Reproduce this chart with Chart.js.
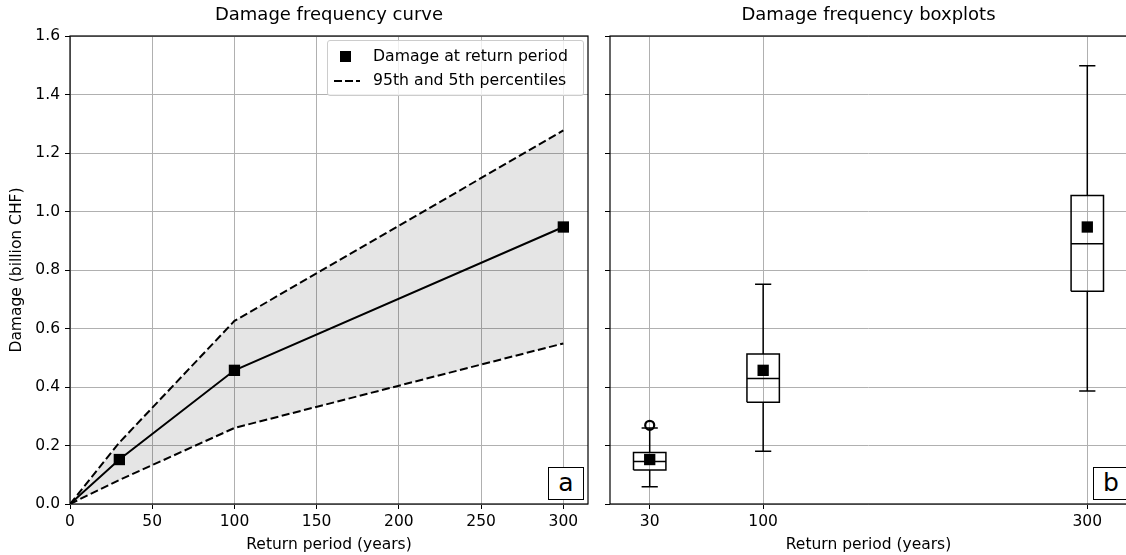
<!DOCTYPE html>
<html>
<head>
<meta charset="utf-8">
<title>Damage frequency</title>
<script src="https://cdn.jsdelivr.net/npm/chart.js@4.4.1/dist/chart.umd.min.js"></script>
<style>
  html, body { margin: 0; padding: 0; background: #fff; overflow: hidden; }
  #wrap { position: relative; width: 1126px; height: 555px; overflow: hidden; font-family: 'DejaVu Sans', sans-serif; color: #000; }
  canvas { position: absolute; top: 0; }
  #curveChart { left: 0; }
  #boxChart { left: 590px; }
  .legend { position: absolute; left: 327px; top: 40px; width: 257px; height: 56px; box-sizing: border-box;
            border: 1px solid #ccc; border-radius: 3px; background: rgba(255,255,255,.8); font-size: 15.7px; }
  .legend .sq { position: absolute; left: 12px; top: 10px; width: 11px; height: 11px; background: #000; }
  .legend .dash { position: absolute; left: 6px; top: 39px; width: 26px; height: 2px;
                  background: repeating-linear-gradient(to right, #000 0 8px, transparent 8px 11px); }
  .legend .lbl { position: absolute; left: 45px; white-space: nowrap; line-height: 18px; }
  .tag { position: absolute; top: 467px; width: 36px; height: 33px; box-sizing: border-box; border: 1.2px solid #000;
         background: #fff; font-size: 25px; line-height: 30px; text-align: center; }
</style>
</head>
<body>
<div id="wrap">
  <canvas id="curveChart" width="600" height="555"></canvas>
  <canvas id="boxChart" width="545" height="555"></canvas>
  <div class="legend">
    <span class="sq"></span><span class="lbl" style="top:6px">Damage at return period</span>
    <span class="dash"></span><span class="lbl" style="top:30px">95th and 5th percentiles</span>
  </div>
  <div class="tag" style="left:548px">a</div>
  <div class="tag" style="left:1093px">b</div>
</div>
<script>
// damage frequency curve (left)
var returnPeriods = [0, 30, 100, 300];
var damageMean = [0, 0.152, 0.457, 0.947];
var damageP95 = [0, 0.21, 0.626, 1.277];
var damageP5 = [0, 0.082, 0.26, 0.549];

// boxplots (right)
var boxPeriods = [30, 100, 300];
var boxMean = [0.152, 0.457, 0.947];
var whiskerLow = [0.059, 0.18, 0.386];
var boxQ1 = [0.116, 0.348, 0.727];
var boxMedian = [0.145, 0.429, 0.89];
var boxQ3 = [0.176, 0.513, 1.055];
var whiskerHigh = [0.26, 0.751, 1.498];
var outlierPeriods = [30];
var outlierDamage = [0.269];

// ticks
var curveTicks = [0, 50, 100, 150, 200, 250, 300];
var damageTicks = [0, 0.2, 0.4, 0.6, 0.8, 1.0, 1.2, 1.4, 1.6];

var BOX_HALF = 10, CAP_HALF = 5;
Chart.defaults.font.family = "'DejaVu Sans', sans-serif";
Chart.defaults.font.size = 15.5;
Chart.defaults.color = '#000';

function pts(xs, ys) {
  return xs.map(function (x, i) { return { x: x, y: ys[i] }; });
}

// outline, median, whiskers and caps of every box as one broken polyline
function boxSegments() {
  var out = [];
  var gap = { x: null, y: null };
  boxPeriods.forEach(function (p, i) {
    var l = p - BOX_HALF, r = p + BOX_HALF;
    out.push({ x: l, y: boxQ1[i] }, { x: r, y: boxQ1[i] }, { x: r, y: boxQ3[i] }, { x: l, y: boxQ3[i] }, { x: l, y: boxQ1[i] }, gap);
    out.push({ x: l, y: boxMedian[i] }, { x: r, y: boxMedian[i] }, gap);
    out.push({ x: p, y: boxQ1[i] }, { x: p, y: whiskerLow[i] }, gap);
    out.push({ x: p, y: boxQ3[i] }, { x: p, y: whiskerHigh[i] }, gap);
    out.push({ x: p - CAP_HALF, y: whiskerLow[i] }, { x: p + CAP_HALF, y: whiskerLow[i] }, gap);
    out.push({ x: p - CAP_HALF, y: whiskerHigh[i] }, { x: p + CAP_HALF, y: whiskerHigh[i] }, gap);
  });
  return out;
}

var frame = {
  id: 'frame',
  afterDatasetsDraw: function (chart) {
    var a = chart.chartArea, ctx = chart.ctx;
    ctx.save();
    ctx.strokeStyle = '#000';
    ctx.lineWidth = 1.2;
    ctx.strokeRect(a.left, a.top, a.right - a.left, a.bottom - a.top);
    ctx.restore();
  }
};

function yScale(showLabels, width) {
  return {
    min: 0, max: 1.6,
    afterBuildTicks: function (s) { s.ticks = damageTicks.map(function (v) { return { value: v }; }); },
    afterFit: function (s) { s.width = width; },
    ticks: { display: showLabels, padding: 5, callback: function (v) { return v.toFixed(1); } },
    grid: { color: '#b0b0b0', lineWidth: 1, tickColor: '#000', tickLength: 5 },
    border: { display: false },
    title: { display: showLabels, text: 'Damage (billion CHF)', padding: { top: 8, bottom: 0 } }
  };
}

function xScale(min, max, tickValues) {
  return {
    type: 'linear', min: min, max: max,
    afterBuildTicks: function (s) { s.ticks = tickValues.map(function (v) { return { value: v }; }); },
    afterFit: function (s) { s.height = 51; },
    ticks: { padding: 4 },
    grid: { color: '#b0b0b0', lineWidth: 1, tickColor: '#000', tickLength: 5 },
    border: { display: false },
    title: { display: true, text: 'Return period (years)', padding: { top: 0, bottom: 1 } }
  };
}

function titleOpts(text) {
  return { display: true, text: text, fullSize: false, font: { size: 18, weight: 'normal' }, padding: { top: 5, bottom: 9.4 } };
}

new Chart(document.getElementById('curveChart'), {
  type: 'scatter',
  data: {
    datasets: [
      { label: '5th percentile', data: pts(returnPeriods, damageP5), showLine: true, borderColor: '#000', borderWidth: 2,
        borderDash: [8, 3.5], pointRadius: 0, fill: false },
      { label: '95th percentile', data: pts(returnPeriods, damageP95), showLine: true, borderColor: '#000', borderWidth: 2,
        borderDash: [8, 3.5], pointRadius: 0, fill: '-1', backgroundColor: 'rgba(0,0,0,0.1)' },
      { label: 'Damage at return period', data: pts(returnPeriods, damageMean), showLine: true, borderColor: '#000', borderWidth: 2,
        pointStyle: 'rect', pointRadius: returnPeriods.map(function (p) { return p === 0 ? 0 : 8; }),
        pointBackgroundColor: '#000', pointBorderWidth: 0 }
    ]
  },
  options: {
    responsive: false, animation: false, events: [],
    layout: { padding: { left: 0, right: 12, top: 0, bottom: 0 } },
    plugins: { legend: { display: false }, tooltip: { enabled: false }, title: titleOpts('Damage frequency curve') },
    scales: { x: xScale(0, 315, curveTicks), y: yScale(true, 70) }
  },
  plugins: [frame]
});

new Chart(document.getElementById('boxChart'), {
  type: 'scatter',
  data: {
    datasets: [
      { label: 'boxes', data: boxSegments(), showLine: true, spanGaps: false, borderColor: '#000', borderWidth: 1.5, pointRadius: 0 },
      { label: 'outliers', data: pts(outlierPeriods, outlierDamage), pointStyle: 'circle', pointRadius: 4.5,
        pointBackgroundColor: 'rgba(0,0,0,0)', pointBorderColor: '#000', pointBorderWidth: 2.2 },
      { label: 'mean', data: pts(boxPeriods, boxMean), pointStyle: 'rect', pointRadius: 8,
        pointBackgroundColor: '#000', pointBorderWidth: 0 }
    ]
  },
  options: {
    responsive: false, animation: false, events: [],
    layout: { padding: { left: 0, right: 5, top: 0, bottom: 0 } },
    plugins: { legend: { display: false }, tooltip: { enabled: false }, title: titleOpts('Damage frequency boxplots') },
    scales: { x: xScale(5.5, 324.5, boxPeriods), y: yScale(false, 20) }
  },
  plugins: [frame]
});
</script>
</body>
</html>
